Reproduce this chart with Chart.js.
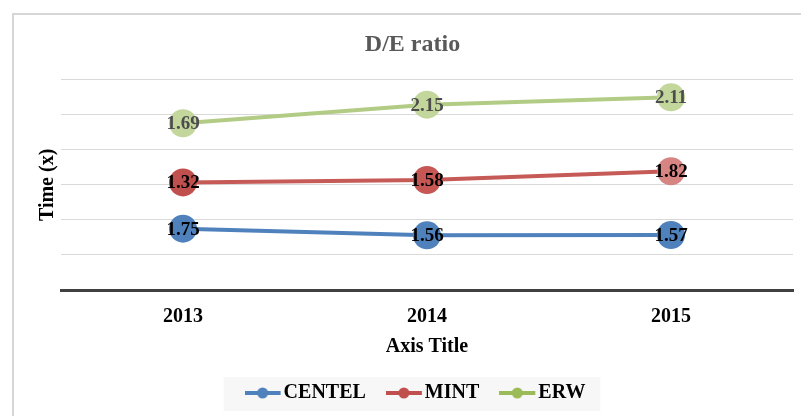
<!DOCTYPE html>
<html><head><meta charset="utf-8">
<script src="https://cdn.jsdelivr.net/npm/chart.js@4.4.0/dist/chart.umd.min.js"></script>
<style>
  body { margin: 0; background: #fff; }
  canvas { display: block; }
</style>
</head>
<body>
<canvas id="myChart" width="801" height="416"></canvas>
<script>
// values (stacked line chart)
var years = ['2013', '2014', '2015'];
var centel = [1.75, 1.56, 1.57];
var mint = [1.32, 1.58, 1.82];
var erw = [1.69, 2.15, 2.11];
var seriesNames = ['CENTEL', 'MINT', 'ERW'];
var yMin = 0, yMax = 6, yStep = 1;

var serif = "'Liberation Serif', 'Times New Roman', serif";

// small line+dot marker used in the legend (line sits left of centre)
function legendMarker(color) {
  var c = document.createElement('canvas');
  c.width = 38; c.height = 12;
  var g = c.getContext('2d');
  g.strokeStyle = color; g.lineWidth = 4;
  g.beginPath(); g.moveTo(0, 6); g.lineTo(36, 6); g.stroke();
  g.fillStyle = color;
  g.beginPath(); g.arc(18, 6, 5.5, 0, Math.PI * 2); g.fill();
  return c;
}

var frame = {
  id: 'frame',
  beforeLayout: function(chart) {
    var lg = chart.legend;
    if (lg && !lg._patched) {
      var f = lg.fit;
      lg.fit = function() { f.apply(this, arguments); this.height = 62; };
      lg._patched = true;
    }
  },
  afterLayout: function(chart) {
    // nudge the legend row a little to the right, like the original
    if (chart.legend) { chart.legend.left += 7; chart.legend.right += 7; }
  },
  beforeDraw: function(chart) {
    var ctx = chart.ctx;
    ctx.save();
    ctx.strokeStyle = '#d6d6d6';
    ctx.lineWidth = 2;
    ctx.beginPath();
    ctx.moveTo(12, 14); ctx.lineTo(801, 14);
    ctx.moveTo(13, 14); ctx.lineTo(13, 416);
    ctx.stroke();
    // faint box behind the legend
    var hb = chart.legend && chart.legend.legendHitBoxes;
    if (hb && hb.length) {
      var first = hb[0], last = hb[hb.length - 1];
      var cy = first.top + first.height / 2;
      var x0 = first.left - 30, x1 = last.left + last.width + 15;
      ctx.fillStyle = 'rgba(0,0,0,0.03)';
      ctx.fillRect(x0, cy - 16, x1 - x0, 34);
    }
    ctx.restore();
  }
};

var valueLabels = {
  id: 'valueLabels',
  afterDatasetsDraw: function(chart) {
    var ctx = chart.ctx;
    ctx.save();
    ctx.font = 'bold 19px ' + serif;
    ctx.textAlign = 'center';
    ctx.textBaseline = 'middle';
    chart.data.datasets.forEach(function(ds, i) {
      var meta = chart.getDatasetMeta(i);
      ctx.fillStyle = ds.labelColor;
      meta.data.forEach(function(pt, j) {
        ctx.fillText(ds.data[j].toFixed(2), pt.x, pt.y + 1);
      });
    });
    ctx.restore();
  }
};

var ctx = document.getElementById('myChart');
var myChart = new Chart(ctx, {
  type: 'line',
  data: {
    labels: years,
    datasets: [{
      label: seriesNames[0],
      data: centel,
      borderColor: '#4f81bd',
      pointBackgroundColor: '#4f81bd',
      labelColor: '#000000',
      marker: legendMarker('#4f81bd')
    }, {
      label: seriesNames[1],
      data: mint,
      borderColor: '#c65a57',
      pointBackgroundColor: ['#c0504d', '#c65754', '#d68583'],
      labelColor: '#000000',
      marker: legendMarker('#c0504d')
    }, {
      label: seriesNames[2],
      data: erw,
      borderColor: '#b3cc85',
      pointBackgroundColor: '#c3d69b',
      labelColor: '#4d4d4d',
      marker: legendMarker('#9bbb59')
    }]
  },
  options: {
    responsive: false,
    animation: false,
    devicePixelRatio: 1,
    layout: { autoPadding: false, padding: { left: 24, right: 0, top: 0, bottom: 0 } },
    elements: {
      line: { borderWidth: 4, tension: 0, fill: false },
      point: { radius: 14, hoverRadius: 14, borderWidth: 0 }
    },
    scales: {
      x: {
        offset: true,
        grid: { display: false, drawTicks: false },
        border: { display: true, color: '#404040', width: 3 },
        ticks: { color: '#000', padding: 0, font: { family: serif, size: 20, weight: 'bold', lineHeight: 2.7 } },
        title: {
          display: true, text: 'Axis Title', color: '#000',
          padding: { top: 0, bottom: -5 },
          font: { family: serif, size: 20, weight: 'bold' }
        },
        afterFit: function(s) { s.height = 64; }
      },
      y: {
        stacked: true,
        min: yMin, max: yMax,
        ticks: { display: false, stepSize: yStep },
        grid: { color: '#d9d9d9', lineWidth: 1, drawTicks: false },
        border: { display: false },
        title: {
          display: true, text: 'Time (x)', color: '#000',
          padding: { top: 12, bottom: 0 },
          font: { family: serif, size: 20, weight: 'bold' }
        },
        afterFit: function(s) { s.width = 37; }
      },
      y2: {
        position: 'right',
        display: true,
        ticks: { display: false },
        grid: { display: false, drawTicks: false },
        border: { display: false },
        afterFit: function(s) { s.width = 8; }
      }
    },
    plugins: {
      title: {
        display: true, text: 'D/E ratio', color: '#595959',
        padding: { top: 30, bottom: 21 },
        font: { family: serif, size: 24, weight: 'bold' }
      },
      legend: {
        position: 'bottom',
        labels: {
          usePointStyle: true,
          pointStyleWidth: 20,
          padding: 29,
          color: '#000',
          font: { family: serif, size: 20, weight: 'bold' },
          generateLabels: function(chart) {
            var items = Chart.defaults.plugins.legend.labels.generateLabels(chart);
            items.forEach(function(it) {
              it.pointStyle = chart.data.datasets[it.datasetIndex].marker;
            });
            return items;
          }
        }
      },
      tooltip: { enabled: false }
    }
  },
  plugins: [frame, valueLabels]
});
</script>
</body></html>
